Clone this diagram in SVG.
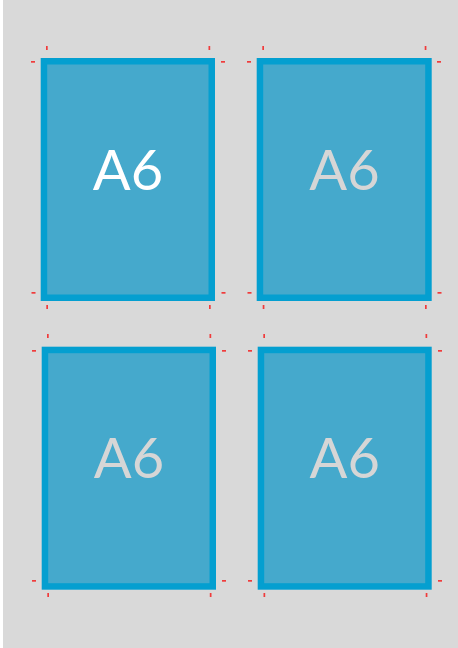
<svg xmlns="http://www.w3.org/2000/svg" width="458" height="648" viewBox="0 0 458 648">
<style>
.card{fill:#45a9cc;stroke:#049fd0;stroke-width:6.5}
.lbl{font-family:Lato,"DejaVu Sans",sans-serif;font-size:56px;text-anchor:middle}
.mk{fill:#f03b3b}
</style>
<rect x="3" y="0" width="455" height="648" fill="#d9d9d9"/>
<g id="a6-top-left">
<rect class="card" x="43.95" y="61.25" width="167.8" height="236.5"/>
<text class="lbl" x="128" y="189.5" fill="#ffffff">A6</text>
</g>
<g id="a6-top-right">
<rect class="card" x="259.95" y="61.25" width="168.5" height="236.5"/>
<text class="lbl" x="344.5" y="189.5" fill="#d6d6d6">A6</text>
</g>
<g id="a6-bottom-left">
<rect class="card" x="44.95" y="349.95" width="167.8" height="236.5"/>
<text class="lbl" x="129" y="477.5" fill="#d6d6d6">A6</text>
</g>
<g id="a6-bottom-right">
<rect class="card" x="260.95" y="349.95" width="167.5" height="236.5"/>
<text class="lbl" x="344.7" y="477.5" fill="#d6d6d6">A6</text>
</g>
<g id="crop-marks">
<rect class="mk" x="46" y="46" width="1.7" height="4"/>
<rect class="mk" x="208.5" y="46" width="1.7" height="4"/>
<rect class="mk" x="262.3" y="46" width="1.7" height="4"/>
<rect class="mk" x="424.7" y="46" width="1.7" height="4"/>
<rect class="mk" x="31" y="61" width="4" height="1.7"/>
<rect class="mk" x="221" y="61" width="4" height="1.7"/>
<rect class="mk" x="247" y="61" width="4" height="1.7"/>
<rect class="mk" x="437" y="61" width="4" height="1.7"/>
<rect class="mk" x="31.5" y="292" width="4" height="1.7"/>
<rect class="mk" x="221.5" y="292" width="4" height="1.7"/>
<rect class="mk" x="247.5" y="292" width="4" height="1.7"/>
<rect class="mk" x="437.5" y="292" width="4" height="1.7"/>
<rect class="mk" x="46.3" y="305" width="1.7" height="4"/>
<rect class="mk" x="209" y="305" width="1.7" height="4"/>
<rect class="mk" x="262.7" y="305" width="1.7" height="4"/>
<rect class="mk" x="425" y="305" width="1.7" height="4"/>
<rect class="mk" x="47" y="334" width="1.7" height="4"/>
<rect class="mk" x="209.5" y="334" width="1.7" height="4"/>
<rect class="mk" x="263.3" y="334" width="1.7" height="4"/>
<rect class="mk" x="425.5" y="334" width="1.7" height="4"/>
<rect class="mk" x="32" y="350" width="4" height="1.7"/>
<rect class="mk" x="222" y="350" width="4" height="1.7"/>
<rect class="mk" x="248" y="350" width="4" height="1.7"/>
<rect class="mk" x="438" y="350" width="4" height="1.7"/>
<rect class="mk" x="32" y="580" width="4" height="1.7"/>
<rect class="mk" x="222" y="580" width="4" height="1.7"/>
<rect class="mk" x="248" y="580" width="4" height="1.7"/>
<rect class="mk" x="438" y="580" width="4" height="1.7"/>
<rect class="mk" x="47.3" y="593" width="1.7" height="4"/>
<rect class="mk" x="209.8" y="593" width="1.7" height="4"/>
<rect class="mk" x="263.5" y="593" width="1.7" height="4"/>
<rect class="mk" x="425.7" y="593" width="1.7" height="4"/>
</g>
</svg>
